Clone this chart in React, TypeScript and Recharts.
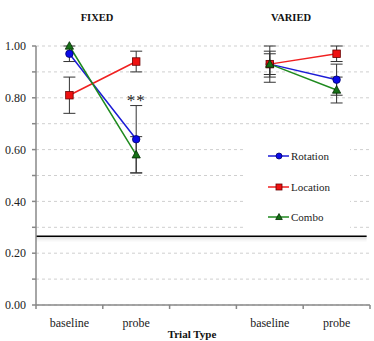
import React from 'react';
import {
  LineChart, Line, XAxis, YAxis, CartesianGrid, ErrorBar, ReferenceLine,
  ReferenceDot, Legend,
} from 'recharts';

const categories = ['baseline', 'probe', '', 'baseline', 'probe'];
const groupTitles = ['FIXED', 'VARIED'];
const rotation = [0.97, 0.64, null, 0.93, 0.87];
const rotationErr = [0.03, 0.13, null, 0.07, 0.06];
const location = [0.81, 0.94, null, 0.93, 0.97];
const locationErr = [0.07, 0.04, null, 0.04, 0.03];
const combo = [1.0, 0.58, null, 0.93, 0.83];
const comboErr = [0, 0.07, null, 0.05, 0.05];
const yTicks = [0, 0.1, 0.2, 0.3, 0.4, 0.5, 0.6, 0.7, 0.8, 0.9, 1.0];
const chanceLevel = 0.265;
const axisTitle = 'Trial Type';

const data = categories.map((c, i) => ({
  x: i + 0.5,
  label: c,
  Rotation: rotation[i],
  rotationErr: rotationErr[i],
  Location: location[i],
  locationErr: locationErr[i],
  Combo: combo[i],
  comboErr: comboErr[i],
}));

const xTicks = [0, 0.5, 1, 1.5, 2, 2.5, 3, 3.5, 4, 4.5, 5];

const series = [
  { key: 'Rotation', err: 'rotationErr', color: '#1c1cd6', fill: '#0a0ae8', stroke: '#00006a', shape: 'circle' },
  { key: 'Location', err: 'locationErr', color: '#f02020', fill: '#ee1010', stroke: '#6a0000', shape: 'square' },
  { key: 'Combo', err: 'comboErr', color: '#1f8a1f', fill: '#157015', stroke: '#022a02', shape: 'triangle' },
];

const serif = '"Liberation Serif", "Times New Roman", serif';

function markerShape(shape: string, cx: number, cy: number, fill: string, stroke: string, size: number) {
  if (shape === 'circle') {
    return <circle cx={cx} cy={cy} r={size / 2} fill={fill} stroke={stroke} strokeWidth={0.8} />;
  }
  if (shape === 'square') {
    return <rect x={cx - size / 2} y={cy - size / 2} width={size} height={size} fill={fill} stroke={stroke} strokeWidth={0.8} />;
  }
  const pts = `${cx},${cy - size * 0.58} ${cx + size * 0.55},${cy + size * 0.42} ${cx - size * 0.55},${cy + size * 0.42}`;
  return <polygon points={pts} fill={fill} stroke={stroke} strokeWidth={0.8} />;
}

const makeDot = (s: typeof series[number]) => (props: any) => {
  const { cx, cy, index, value } = props;
  if (cx == null || cy == null || value == null) return <g key={`d-${s.key}-${index}`} />;
  return <g key={`d-${s.key}-${index}`}>{markerShape(s.shape, cx, cy, s.fill, s.stroke, 7.5)}</g>;
};

const XTick = (props: any) => {
  const { x, y, payload } = props;
  const v = payload.value;
  if (Number.isInteger(v)) {
    return <line x1={x} y1={y} x2={x} y2={y + 4} stroke="#888" strokeWidth={1.5} />;
  }
  const idx = Math.floor(v);
  return (
    <text x={x} y={y + 22} textAnchor="middle" style={{ fontFamily: serif }} fontSize={12} fill="#222">
      {categories[idx]}
    </text>
  );
};

const LegendBox = () => (
  <div style={{ background: '#fff', width: 107, height: 100, position: 'relative', fontFamily: serif, fontSize: 11, color: '#222' }}>
    {series.map((s, i) => (
      <div key={s.key} style={{ position: 'absolute', left: 25, top: 18 + i * 30.5, height: 12, display: 'flex', alignItems: 'center' }}>
        <svg width={22} height={12}>
          <line x1={0} y1={6} x2={21} y2={6} stroke={s.color} strokeWidth={1.5} />
          {markerShape(s.shape, 11, 6, s.fill, s.stroke, 6)}
        </svg>
        <span style={{ marginLeft: 1, lineHeight: '12px' }}>{s.key}</span>
      </div>
    ))}
  </div>
);

const ChanceLine = (p: any) => {
  const { x1, y1, x2 } = p;
  return (
    <g>
      <line x1={x1} y1={y1 + 1.5} x2={x2} y2={y1 + 1.5} stroke="#000" strokeOpacity={0.12} strokeWidth={1.5} />
      <line x1={x1} y1={y1 + 3} x2={x2} y2={y1 + 3} stroke="#000" strokeOpacity={0.06} strokeWidth={1.5} />
      <line x1={x1} y1={y1 + 4.5} x2={x2} y2={y1 + 4.5} stroke="#000" strokeOpacity={0.03} strokeWidth={1.5} />
      <line x1={x1} y1={y1} x2={x2} y2={y1} stroke="#000" strokeWidth={1.5} />
    </g>
  );
};

export default function App() {
  return (
    <div style={{ position: 'absolute', left: 0, top: 0, width: 374, height: 341, background: '#fff', fontFamily: serif }}>
      <LineChart width={374} height={341} data={data} margin={{ top: 46, right: 4, bottom: 6, left: 0 }}>
        <CartesianGrid vertical={false} strokeDasharray="3 3" stroke="#cfcfcf" />
        <XAxis
          type="number"
          dataKey="x"
          domain={[0, 5]}
          ticks={xTicks}
          interval={0}
          tickSize={0}
          tickMargin={0}
          tickLine={false}
          tick={<XTick />}
          height={30}
          axisLine={{ stroke: '#888', strokeWidth: 1.5 }}
        />
        <YAxis
          domain={[0, 1]}
          ticks={yTicks}
          interval={0}
          width={36}
          tickSize={4}
          tickMargin={6}
          tickFormatter={(v: number) => (Math.round(v * 10) % 2 === 0 ? v.toFixed(2) : '')}
          tick={{ fontFamily: serif, fontSize: 12, fill: '#222', style: { fontFamily: serif } }}
          tickLine={{ stroke: '#888', strokeWidth: 1.5 }}
          axisLine={{ stroke: '#888', strokeWidth: 1.5 }}
        />
        <ReferenceLine
          segment={[{ x: 0, y: chanceLevel }, { x: 4.95, y: chanceLevel }]}
          shape={<ChanceLine />}
        />
        <Legend
          layout="horizontal"
          verticalAlign="middle"
          align="center"
          content={<LegendBox />}
          wrapperStyle={{ left: 243, top: 132, width: 107, height: 100 }}
        />
        {series.map(s => (
          <Line
            key={s.key}
            type="linear"
            dataKey={s.key}
            stroke={s.color}
            strokeWidth={1.5}
            dot={makeDot(s)}
            activeDot={false}
            connectNulls={false}
            isAnimationActive={false}
          >
            <ErrorBar dataKey={s.err} direction="y" width={6} stroke="#333" strokeWidth={1} />
          </Line>
        ))}
        <ReferenceDot
          x={1.5}
          y={0.79}
          r={0}
          fill="none"
          stroke="none"
          label={{ value: '**', position: 'center', fontSize: 17, fill: '#222', fontFamily: serif, letterSpacing: 1 }}
        />
      </LineChart>
      <svg width={374} height={341} style={{ position: 'absolute', left: 0, top: 0, pointerEvents: 'none' }}>
        <text x={97} y={21} textAnchor="middle" fontFamily={serif} fontWeight="bold" fontSize={10.5} fill="#111">{groupTitles[0]}</text>
        <text x={291} y={21} textAnchor="middle" fontFamily={serif} fontWeight="bold" fontSize={10.5} fill="#111">{groupTitles[1]}</text>
        <text x={192} y={338} textAnchor="middle" fontFamily={serif} fontWeight="bold" fontSize={11} fill="#111">{axisTitle}</text>
      </svg>
    </div>
  );
}
